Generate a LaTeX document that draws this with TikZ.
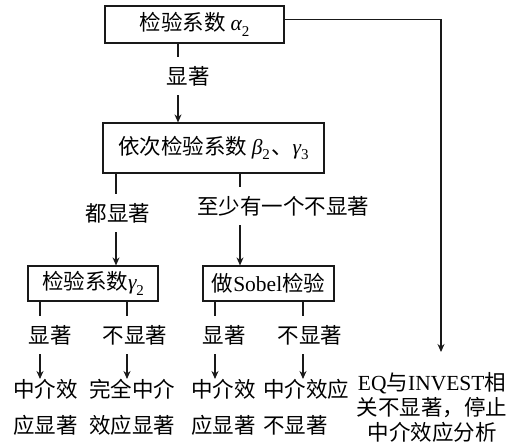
\documentclass[tikz,border=0pt]{standalone}
\usepackage{fontspec}
\setmainfont{Noto Sans CJK SC}
\newfontfamily\lat{Liberation Serif}
\newcommand{\gk}[2]{{\lat\itshape #1}\raisebox{-0.25em}{\lat\fontsize{15}{15}\selectfont #2}}
\usetikzlibrary{arrows.meta}
\begin{document}
\begin{tikzpicture}[x=1pt,y=-1pt,
  box/.style={draw=black!90,line width=1.2pt,inner sep=0pt,font=\fontsize{21.5}{26}\selectfont},
  lbl/.style={inner sep=0pt,minimum height=38pt,font=\fontsize{21.5}{26}\selectfont},
  res/.style={inner sep=0pt,align=left,font=\fontsize{21.5}{36}\selectfont},
  ln/.style={line width=1.1pt,draw=black!90},
  arr/.style={ln,-{Stealth[length=8pt,width=7pt]}}]
\useasboundingbox (0,0) rectangle (529,447);
% boxes
\node[box,minimum width=179pt,minimum height=37pt] (b1) at (194.5,24.5) {检验系数 \gk{α}{2}};
\node[box,minimum width=221pt,minimum height=50pt] (b2) at (213.5,148) {依次检验系数\kern0.2em\gk{β}{2}\kern0.05em、\gk{γ}{3}};
\node[box,minimum width=130pt,minimum height=35pt] (b3) at (93,283.5) {检验系数\gk{γ}{2}};
\node[box,minimum width=131pt,minimum height=35pt] (b4) at (268.5,283.5) {做{\lat Sobel}检验};
% labels
\node[lbl] (l1) at (188,76) {显著};
\node[lbl] (l2) at (118,213) {都显著};
\node[lbl] (l3) at (283,206) {至少有一个不显著};
\node[lbl] (l4) at (50,335) {显著};
\node[lbl] (l5) at (135,335) {不显著};
\node[lbl] (l6) at (224,335) {显著};
\node[lbl] (l7) at (310,335) {不显著};
% results
\node[res,anchor=north west] (t1) at (13,379) {中介效\\应显著};
\node[res,anchor=north west] (t2) at (89,379) {完全中介\\效应显著};
\node[res,anchor=north west] (t3) at (191,379) {中介效\\应显著};
\node[res,anchor=north west] (t4) at (263,379) {中介效应\\不显著};
\node[inner sep=0pt,align=center,anchor=north,font=\fontsize{21.5}{25}\selectfont] (t5) at (432,372) {{\lat EQ}与{\lat INVEST}相\\关不显著，停止\\中介效应分析};
% x positions
\coordinate (xa) at (178,0);
\coordinate (xb) at (116,0);
\coordinate (xc) at (240,0);
\coordinate (xd) at (40,0);
\coordinate (xe) at (127,0);
\coordinate (xf) at (215,0);
\coordinate (xg) at (303,0);
\coordinate (cr) at (441,19.5);
% connectors
\draw[ln] (b1.south -| xa) -- (l1.north -| xa);
\draw[arr] (l1.south -| xa) -- (b2.north -| xa);
\draw[ln] (b2.south -| xb) -- (l2.north -| xb);
\draw[arr] (l2.south -| xb) -- (b3.north -| xb);
\draw[ln] (b2.south -| xc) -- (l3.north -| xc);
\draw[arr] (l3.south -| xc) -- (b4.north -| xc);
\draw[ln] (b3.south -| xd) -- (l4.north -| xd);
\draw[arr] (l4.south -| xd) -- (t1.north -| xd);
\draw[ln] (b3.south -| xe) -- (l5.north -| xe);
\draw[arr] (l5.south -| xe) -- (t2.north -| xe);
\draw[ln] (b4.south -| xf) -- (l6.north -| xf);
\draw[arr] (l6.south -| xf) -- (t3.north -| xf);
\draw[ln] (b4.south -| xg) -- (l7.north -| xg);
\draw[arr] (l7.south -| xg) -- (t4.north -| xg);
\draw[arr,shorten >=20pt] (b1.east |- cr) -- (cr) -- (t5.north -| cr);
\end{tikzpicture}
\end{document}
